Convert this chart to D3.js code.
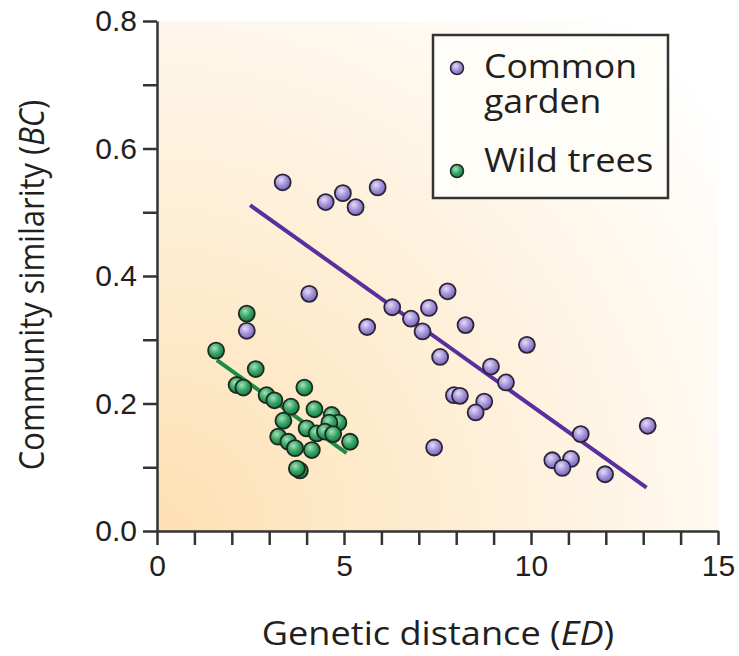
<!DOCTYPE html>
<html>
<head>
<meta charset="utf-8">
<script src="https://d3js.org/d3.v7.min.js"></script>
<style>
  body { margin: 0; background: #fff; }
  svg { display: block; font-family: "Open Sans", sans-serif; }
</style>
</head>
<body>
<div id="chart"></div>
<script>
// common garden points (genetic distance ED, similarity BC)
const gardenX = [3.36, 4.51, 4.97, 5.31, 5.90, 4.07, 2.40, 5.62, 6.29, 6.79, 7.27, 7.77, 7.10, 7.57, 8.25,
  7.94, 8.10, 8.93, 9.33, 8.75, 8.52, 9.89, 7.41, 13.12, 11.33, 10.57, 11.07, 10.84, 11.98];
const gardenY = [0.547, 0.516, 0.530, 0.508, 0.539, 0.372, 0.314, 0.320, 0.351, 0.333, 0.350, 0.376, 0.313, 0.273, 0.323,
  0.213, 0.212, 0.258, 0.233, 0.203, 0.186, 0.292, 0.131, 0.165, 0.152, 0.111, 0.113, 0.099, 0.089];

// wild tree points
const wildX = [2.40, 1.58, 2.64, 2.13, 2.31, 3.94, 2.93, 3.14, 3.58, 4.21, 4.67, 4.85, 4.61, 3.38, 4.00,
  4.27, 4.49, 4.71, 3.24, 3.51, 3.69, 4.14, 5.16, 3.82, 3.74];
const wildY = [0.341, 0.283, 0.254, 0.229, 0.225, 0.225, 0.213, 0.205, 0.195, 0.191, 0.182, 0.170, 0.170, 0.173, 0.161,
  0.153, 0.156, 0.152, 0.148, 0.140, 0.130, 0.127, 0.140, 0.095, 0.098];

// fitted lines (end points)
const gardenFitX = [2.49, 13.09];
const gardenFitY = [0.511, 0.068];
const wildFitX = [1.60, 5.07];
const wildFitY = [0.268, 0.122];

const xTicks = d3.range(0, 16, 1);
const xLabels = [0, 5, 10, 15];
const yTicks = [0, 0.1, 0.2, 0.3, 0.4, 0.5, 0.6, 0.7, 0.8];
const yLabels = [0, 0.2, 0.4, 0.6, 0.8];

const W = 739, H = 656;
const mLeft = 157, mRight = 718, mTop = 21, mBottom = 531;
const ink = "#231f20";

const svg = d3.select("#chart").append("svg")
  .attr("width", W)
  .attr("height", H);

const defs = svg.append("defs");

// background wash, orange at the origin fading to white
const bg = defs.append("radialGradient")
  .attr("id", "bg")
  .attr("gradientUnits", "userSpaceOnUse")
  .attr("cx", mLeft).attr("cy", mBottom).attr("r", 700);
bg.append("stop").attr("offset", "0").attr("stop-color", "#fde0b2");
bg.append("stop").attr("offset", "0.5").attr("stop-color", "#fef0da");
bg.append("stop").attr("offset", "1").attr("stop-color", "#ffffff");

function ball(id, light, base, dark) {
  const g = defs.append("radialGradient")
    .attr("id", id)
    .attr("cx", "0.4").attr("cy", "0.35").attr("r", "0.65");
  g.append("stop").attr("offset", "0").attr("stop-color", light);
  g.append("stop").attr("offset", "0.55").attr("stop-color", base);
  g.append("stop").attr("offset", "1").attr("stop-color", dark);
}
ball("purpleBall", "#e4dcf6", "#a592da", "#7a66b8");
ball("greenBall", "#a7e0bb", "#36a566", "#1c7a44");

const x = d3.scaleLinear().domain([0, 15]).range([mLeft, mRight]);
const y = d3.scaleLinear().domain([0, 0.8]).range([mBottom, mTop]);

svg.append("rect")
  .attr("x", mLeft).attr("y", mTop)
  .attr("width", mRight - mLeft).attr("height", mBottom - mTop)
  .attr("fill", "url(#bg)");

// axes
const xAxis = svg.append("g")
  .attr("transform", `translate(0,${mBottom})`)
  .call(d3.axisBottom(x)
    .tickValues(xTicks)
    .tickSize(14)
    .tickSizeOuter(0)
    .tickPadding(10)
    .tickFormat(d => xLabels.includes(d) ? d : ""));

const yAxis = svg.append("g")
  .attr("transform", `translate(${mLeft},0)`)
  .call(d3.axisLeft(y)
    .tickValues(yTicks)
    .tickSize(14)
    .tickSizeOuter(0)
    .tickPadding(6)
    .tickFormat(d => yLabels.some(v => Math.abs(v - d) < 1e-9) ? d3.format(".1f")(d) : ""));

[xAxis, yAxis].forEach(a => {
  a.selectAll("path, line").attr("stroke", "#333").attr("stroke-width", 2.5);
  a.selectAll("text").attr("fill", ink).style("font-size", "30px");
});

// fit lines
const line = d3.line().x(d => x(d[0])).y(d => y(d[1]));
svg.append("path")
  .datum(gardenFitX.map((v, i) => [v, gardenFitY[i]]))
  .attr("d", line)
  .attr("stroke", "#5a2e9e").attr("stroke-width", 4).attr("fill", "none");
svg.append("path")
  .datum(wildFitX.map((v, i) => [v, wildFitY[i]]))
  .attr("d", line)
  .attr("stroke", "#1d8c48").attr("stroke-width", 4).attr("fill", "none");

// points
svg.append("g").selectAll("circle")
  .data(gardenX.map((v, i) => [v, gardenY[i]]))
  .join("circle")
  .attr("cx", d => x(d[0])).attr("cy", d => y(d[1]))
  .attr("r", 8)
  .attr("fill", "url(#purpleBall)")
  .attr("stroke", "#2a2438").attr("stroke-width", 1.8);

svg.append("g").selectAll("circle")
  .data(wildX.map((v, i) => [v, wildY[i]]))
  .join("circle")
  .attr("cx", d => x(d[0])).attr("cy", d => y(d[1]))
  .attr("r", 8)
  .attr("fill", "url(#greenBall)")
  .attr("stroke", "#1b2b20").attr("stroke-width", 1.8);

// legend
const legend = svg.append("g");
legend.append("rect")
  .attr("x", 433).attr("y", 35)
  .attr("width", 235).attr("height", 163)
  .attr("fill", "#fffdf8")
  .attr("stroke", "#333").attr("stroke-width", 2.5);
legend.append("circle")
  .attr("cx", 457).attr("cy", 68).attr("r", 6.5)
  .attr("fill", "url(#purpleBall)").attr("stroke", "#2a2438").attr("stroke-width", 1.5);
legend.append("circle")
  .attr("cx", 457).attr("cy", 171).attr("r", 6.5)
  .attr("fill", "url(#greenBall)").attr("stroke", "#1b2b20").attr("stroke-width", 1.5);

// two-line entry kept in one text element
const lg1 = legend.append("text")
  .attr("transform", "translate(484,78) scale(1.08,1)")
  .attr("fill", ink)
  .style("font-size", "33px");
lg1.append("tspan").attr("x", 0).attr("y", 0).text("Common");
lg1.append("tspan").attr("x", 0).attr("y", 35).text("garden");

legend.append("text")
  .attr("transform", "translate(484,172) scale(1.1,1)")
  .attr("fill", ink)
  .style("font-size", "33px")
  .text("Wild trees");

// axis titles
const xt = svg.append("text")
  .attr("transform", "translate(438,645) scale(1.13,1)")
  .attr("text-anchor", "middle")
  .attr("fill", ink)
  .style("font-size", "32px");
xt.append("tspan").text("Genetic distance (");
xt.append("tspan").style("font-style", "italic").text("ED");
xt.append("tspan").text(")");

const yt = svg.append("text")
  .attr("transform", "translate(44,285) rotate(-90) scale(1,1.1)")
  .attr("text-anchor", "middle")
  .attr("fill", ink)
  .style("font-size", "31px");
yt.append("tspan").text("Community similarity (");
yt.append("tspan").style("font-style", "italic").text("BC");
yt.append("tspan").text(")");
</script>
</body>
</html>
